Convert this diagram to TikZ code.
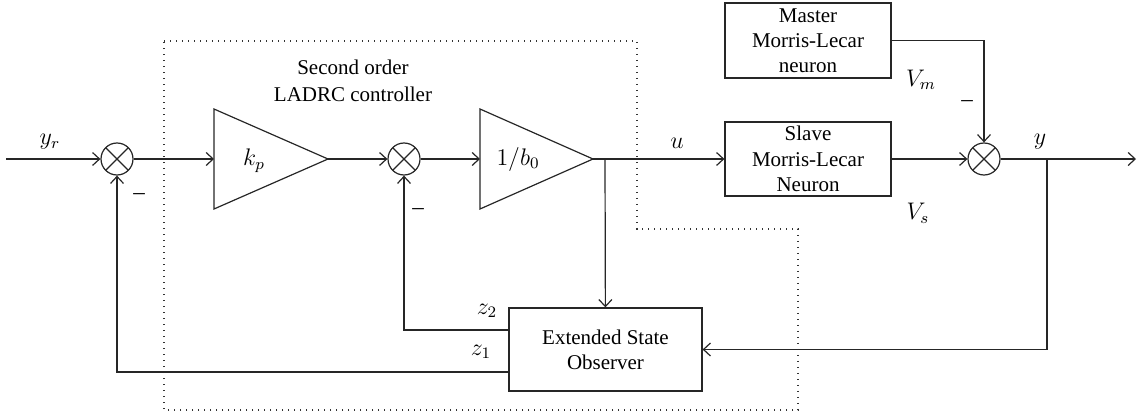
\documentclass[tikz,border=0pt]{standalone}
\usepackage{fontspec}
\setmainfont{Liberation Serif}
\usetikzlibrary{arrows.meta,calc}

\tikzset{
  wire/.style={line width=0.6pt, draw=black!85},
  arr/.style={wire, -{Straight Barb[length=3.5pt,width=6.5pt,line width=0.6pt]}},
  sumjn/.style={circle, wire, minimum size=16pt, inner sep=0pt,
    path picture={
      \draw[wire] (path picture bounding box.north west) -- (path picture bounding box.south east);
      \draw[wire] (path picture bounding box.north east) -- (path picture bounding box.south west);
    }},
  blk/.style={rectangle, wire, align=center, inner sep=0pt, font=\fontsize{10.5pt}{12.6pt}\selectfont},
  lbl/.style={font=\fontsize{11.5pt}{13pt}\selectfont, inner sep=0pt},
  gain/.style={wire, line join=miter},
  region/.style={line width=0.6pt, draw=black!80, dash pattern=on 0.6pt off 2.4pt},
}

\begin{document}
\begin{tikzpicture}[x=0.5pt, y=-0.5pt]
  \useasboundingbox (0,0) rectangle (1139,417);

  % controller boundary
  \draw[region] (164,41) -- (637,41) -- (637,229) -- (798,229) -- (798,410) -- (164,410) -- cycle;
  \node[align=center, inner sep=0pt, font=\fontsize{10.5pt}{13.5pt}\selectfont] (ctrl) at (353,81) {Second order\\LADRC controller};

  % summing junctions
  \node[sumjn] (s1) at (117,159) {};
  \node[sumjn] (s2) at (404,159) {};
  \node[sumjn] (s3) at (984,159) {};

  % gain blocks
  \draw[gain] (214,109) -- (214,209) -- (328,159) -- cycle;
  \coordinate (kpin) at (214,159);
  \coordinate (kpout) at (328,159);
  \node[lbl] (kp) at (254,161) {$k_p$};

  \draw[gain] (480,109) -- (480,209) -- (593,159) -- cycle;
  \coordinate (bin) at (480,159);
  \coordinate (bout) at (593,159);
  \node[lbl] (binv) at (518,159) {$1/b_0$};

  % plant and reference neurons
  \node[blk, minimum width=83pt, minimum height=37pt] (slave) at (808,159) {Slave\\Morris-Lecar\\Neuron};
  \node[blk, minimum width=83pt, minimum height=37.5pt] (master) at (808,40.5) {Master\\Morris-Lecar\\neuron};

  % observer
  \node[blk, minimum width=96.5pt, minimum height=41.5pt] (eso) at (605.5,349.5) {Extended State\\Observer};

  % free ends and branch points
  \coordinate (in) at (6,159);
  \coordinate (out) at (1136,159);
  \coordinate (ubr) at (605,159);
  \coordinate (ybr) at (1047,159);

  % forward path
  \draw[arr] (in) -- (s1);
  \draw[arr] (s1) -- (kpin);
  \draw[arr] (kpout) -- (s2);
  \draw[arr] (s2) -- (bin);
  \draw[wire] (bout) -- (ubr);
  \draw[arr] (ubr) -- (slave);
  \draw[arr] (ubr) -- (eso);
  \draw[arr] (slave) -- (s3);
  \draw[arr] (master.east) -| (s3);
  \draw[arr] (s3) -- (out);

  % feedback paths
  \draw[arr] (ybr) |- (eso.east);
  \draw[arr] ($(eso.west)+(0,-19.5)$) -| (s2);
  \draw[arr] ($(eso.west)+(0,22.5)$) -| (s1);

  % signal labels
  \node[lbl] (lyr) at (50,142) {$y_r$};
  \node[lbl] (lu) at (677,143) {$u$};
  \node[lbl] (ly) at (1040,142) {$y$};
  \node[lbl] (lvm) at (921,80) {$V_m$};
  \node[lbl] (lvs) at (918,213) {$V_s$};
  \node[lbl] (lz2) at (487,311) {$z_2$};
  \node[lbl] (lz1) at (481,352) {$z_1$};
  \node[lbl] (m1) at (139,197) {--};
  \node[lbl] (m2) at (418,212) {--};
  \node[lbl] (m3) at (967,104) {--};
\end{tikzpicture}
\end{document}
